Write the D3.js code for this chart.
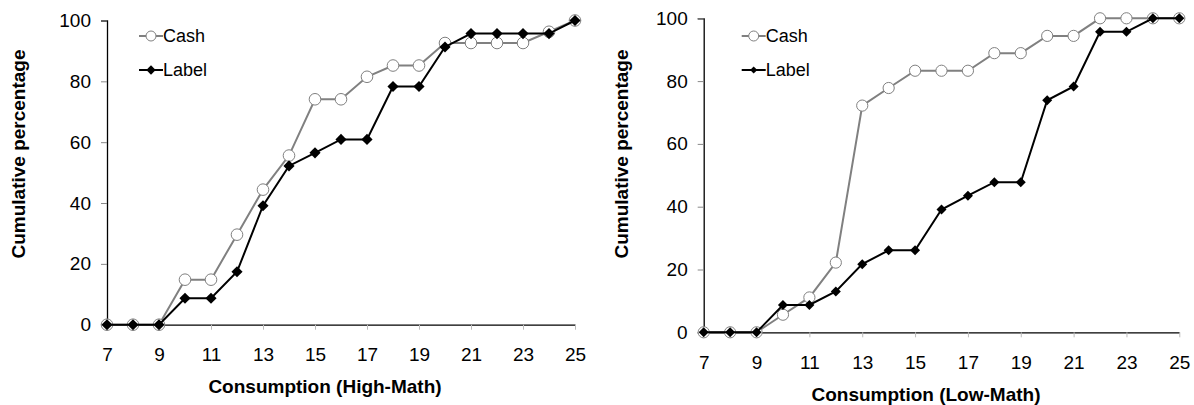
<!DOCTYPE html>
<html>
<head>
<meta charset="utf-8">
<script src="https://cdn.jsdelivr.net/npm/d3@7"></script>
<style>
  html, body { margin: 0; padding: 0; background: #fff; }
  svg { display: block; }
  text { font-family: "Liberation Sans", Arial, sans-serif; fill: #000; }
</style>
</head>
<body>
<svg id="chart" width="1194" height="405"></svg>
<script>
// Consumption levels (x categories)
const consumption = [7, 8, 9, 10, 11, 12, 13, 14, 15, 16, 17, 18, 19, 20, 21, 22, 23, 24, 25];
const xTickValues = [7, 9, 11, 13, 15, 17, 19, 21, 23, 25];
const yTickValues = [0, 20, 40, 60, 80, 100];
const seriesNames = ["Cash", "Label"];

// High-Math group: cumulative percentages
const highCash  = [0, 0, 0, 14.8, 14.8, 29.6, 44.4, 55.6, 74.1, 74.1, 81.5, 85.2, 85.2, 92.6, 92.6, 92.6, 92.6, 96.3, 100];
const highLabel = [0, 0, 0, 8.7, 8.7, 17.4, 39.1, 52.2, 56.5, 60.9, 60.9, 78.3, 78.3, 91.3, 95.7, 95.7, 95.7, 95.7, 100];

// Low-Math group: cumulative percentages
const lowCash  = [0, 0, 0, 5.6, 11.1, 22.2, 72.2, 77.8, 83.3, 83.3, 83.3, 88.9, 88.9, 94.4, 94.4, 100, 100, 100, 100];
const lowLabel = [0, 0, 0, 8.7, 8.7, 13.0, 21.7, 26.1, 26.1, 39.1, 43.5, 47.8, 47.8, 73.9, 78.3, 95.7, 95.7, 100, 100];

const panels = [
  { title: "Consumption (High-Math)", cash: highCash, label: highLabel,
    x0: 107, x1: 575, yBottom: 324.7, yTop: 20.5,
    xTitleX: 325, xTitleY: 393, yTitleX: 18, yTitleY: 154,
    legendX: 139, circleR: 5.8, diamond: 62, legendDiamond: 44 },
  { title: "Consumption (Low-Math)", cash: lowCash, label: lowLabel,
    x0: 703.7, x1: 1179.3, yBottom: 332.3, yTop: 18.3,
    xTitleX: 926, xTitleY: 401, yTitleX: 621, yTitleY: 154,
    legendX: 741.7, circleR: 5.6, diamond: 50, legendDiamond: 26 }
];

const svg = d3.select("#chart");
const fontTick = 19, fontTitle = 19, fontLegend = 18;

function diamondPath(area) {
  return d3.symbol().type(d3.symbolSquare).size(area)();
}

panels.forEach(p => {
  const x = d3.scaleLinear().domain([7, 25]).range([p.x0, p.x1]);
  const y = d3.scaleLinear().domain([0, 100]).range([p.yBottom, p.yTop]);
  const g = svg.append("g");

  // Y axis
  const yAxis = d3.axisLeft(y).tickValues(yTickValues).tickSize(6).tickPadding(10);
  const ya = g.append("g").attr("transform", `translate(${p.x0},0)`).call(yAxis);
  ya.select(".domain").attr("stroke", "#000").attr("stroke-width", 1.3);
  ya.selectAll(".tick line").attr("stroke", "#888");
  ya.selectAll(".tick text").style("font-size", fontTick + "px").attr("fill", "#000");

  // X axis
  const xAxis = d3.axisBottom(x).tickValues(xTickValues).tickSize(5).tickSizeOuter(0).tickPadding(18);
  const xa = g.append("g").attr("transform", `translate(0,${p.yBottom})`).call(xAxis);
  xa.select(".domain").attr("stroke", "#000").attr("stroke-width", 1.3);
  xa.selectAll(".tick line").attr("stroke", "#bbb");
  xa.selectAll(".tick text").style("font-size", fontTick + "px").attr("fill", "#000");

  // Axis titles
  g.append("text")
    .attr("x", p.xTitleX).attr("y", p.xTitleY)
    .attr("text-anchor", "middle")
    .style("font-size", fontTitle + "px").style("font-weight", "bold")
    .text(p.title);
  g.append("text")
    .attr("transform", `translate(${p.yTitleX + 7},${p.yTitleY}) rotate(-90)`)
    .attr("text-anchor", "middle")
    .style("font-size", fontTitle + "px").style("font-weight", "bold")
    .text("Cumulative percentage");

  const line = d3.line().x((d, i) => x(consumption[i])).y(d => y(d));

  // Cash series: grey line with open circles
  g.append("path").datum(p.cash).attr("d", line)
    .attr("fill", "none").attr("stroke", "#808080").attr("stroke-width", 2);
  g.selectAll(".cash").data(p.cash).enter().append("circle")
    .attr("cx", (d, i) => x(consumption[i])).attr("cy", d => y(d))
    .attr("r", p.circleR).attr("fill", "#fff").attr("stroke", "#808080").attr("stroke-width", 1);

  // Label series: black line with filled diamonds
  g.append("path").datum(p.label).attr("d", line)
    .attr("fill", "none").attr("stroke", "#000").attr("stroke-width", 2);
  g.selectAll(".lab").data(p.label).enter().append("path")
    .attr("d", diamondPath(p.diamond))
    .attr("transform", (d, i) => `translate(${x(consumption[i])},${y(d)}) rotate(45)`)
    .attr("fill", "#000");

  // Legend
  const legY = [36, 70];
  seriesNames.forEach((name, k) => {
    const lg = g.append("g");
    lg.append("line").attr("x1", p.legendX).attr("x2", p.legendX + 24)
      .attr("y1", legY[k]).attr("y2", legY[k])
      .attr("stroke", k === 0 ? "#808080" : "#000").attr("stroke-width", 2);
    if (k === 0) {
      lg.append("circle").attr("cx", p.legendX + 12).attr("cy", legY[k]).attr("r", 5)
        .attr("fill", "#fff").attr("stroke", "#808080").attr("stroke-width", 1);
    } else {
      lg.append("path").attr("d", diamondPath(p.legendDiamond))
        .attr("transform", `translate(${p.legendX + 12},${legY[k]}) rotate(45)`)
        .attr("fill", "#000");
    }
    lg.append("text").attr("x", p.legendX + 24).attr("y", legY[k]).attr("dy", "0.35em")
      .style("font-size", fontLegend + "px").text(name);
  });
});
</script>
</body>
</html>
